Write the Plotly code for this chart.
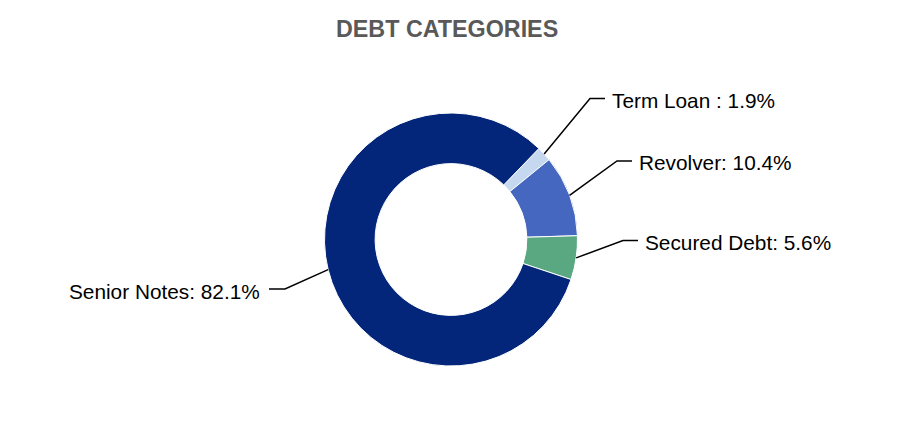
import math
import plotly.graph_objects as go

# ---- data ----
labels = ["Term Loan ", "Revolver", "Secured Debt", "Senior Notes"]
values = [1.9, 10.4, 5.6, 82.1]
colors = ["#c5d8f0", "#4567bf", "#5aa882", "#03257a"]
title_text = "DEBT CATEGORIES"

# ---- layout constants (screen pixels) ----
OFF = 8  # page body margin
W, H = 902 - 2 * OFF, 422 - 2 * OFF
CX, CY, R = 451, 239.5, 126.5
ROTATION = 44
# elbow points of label connectors and side
label_elbows = [(590, 98.5), (617, 161), (623, 240.5), (285, 289)]
label_sides = ["right", "right", "right", "left"]


def px(x):
    return (x - OFF) / W


def py(y):
    return 1 - (y - OFF) / H


fig = go.Figure()
fig.add_trace(go.Pie(
    labels=labels,
    values=values,
    marker=dict(colors=colors, line=dict(color="white", width=1)),
    hole=0.6,
    sort=False,
    direction="clockwise",
    rotation=ROTATION,
    textinfo="none",
    textposition="none",
    showlegend=False,
    domain=dict(x=[px(CX - R), px(CX + R)], y=[py(CY + R), py(CY - R)]),
))

total = sum(values)
shapes = []
annotations = []
cum = 0.0
for lab, val, (ex, ey), side in zip(labels, values, label_elbows, label_sides):
    mid = ROTATION + (cum + val / 2) / total * 360
    cum += val
    a = math.radians(mid)
    sx = CX + R * math.sin(a)
    sy = CY - R * math.cos(a)
    hx = ex + 15 if side == "right" else ex - 16
    path = f"M {px(sx)} {py(sy)} L {px(ex)} {py(ey)} L {px(hx)} {py(ey)}"
    shapes.append(dict(type="path", xref="paper", yref="paper", path=path,
                       line=dict(color="black", width=1.5)))
    tx = hx + 5 if side == "right" else hx - 7
    annotations.append(dict(
        xref="paper", yref="paper", x=px(tx), y=py(ey + 2),
        text=f"{lab}: {val}%", showarrow=False,
        xanchor="left" if side == "right" else "right", yanchor="middle",
        font=dict(family="Liberation Sans, Arial, sans-serif", size=20.8, color="#000000"),
    ))

annotations.append(dict(
    xref="paper", yref="paper", x=px(447), y=py(29),
    text=f"<b>{title_text}</b>", showarrow=False,
    xanchor="center", yanchor="middle",
    font=dict(family="Liberation Sans, Arial, sans-serif", size=23.3, color="#595959"),
))

fig.update_layout(
    width=W, height=H,
    margin=dict(l=0, r=0, t=0, b=0),
    paper_bgcolor="white", plot_bgcolor="white",
    shapes=shapes, annotations=annotations,
)

fig.write_html("out.html")
